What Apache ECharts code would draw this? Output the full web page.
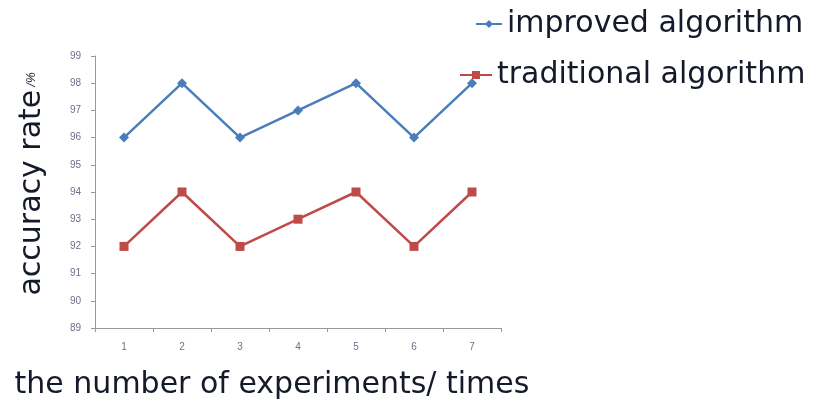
<!DOCTYPE html>
<html>
<head>
<meta charset="utf-8">
<script src="https://cdn.jsdelivr.net/npm/echarts@6/dist/echarts.min.js"></script>
<style>
html,body{margin:0;padding:0;background:#fff;}
#main{width:823px;height:405px;}
</style>
</head>
<body>
<div id="main"></div>
<script>
// 实验次数
var categories = ['1', '2', '3', '4', '5', '6', '7'];
// 改进算法准确率
var improved = [96, 98, 96, 97, 98, 96, 98];
// 传统算法准确率
var traditional = [92, 94, 92, 93, 94, 92, 94];

var myChart = echarts.init(document.getElementById('main'));
var tickColor = '#7a6a8a';
var textColor = '#151a2a';
var font = 'DejaVu Sans';
var option = {
	backgroundColor: '#fff',
	animation: false,
	grid: {left: 95, top: 56, right: 322, bottom: 77, outerBoundsMode: 'none', containLabel: false},
	legend: [
		{
			data: ['improved algorithm'],
			left: 470, top: 4,
			itemWidth: 26, itemHeight: 10, itemGap: 4,
			textStyle: {fontSize: 30, color: textColor, fontFamily: font}
		},
		{
			data: ['traditional algorithm'],
			left: 454, top: 55,
			itemWidth: 32, itemHeight: 10, itemGap: 4,
			textStyle: {fontSize: 30, color: textColor, fontFamily: font}
		}
	],
	xAxis: {
		type: 'category',
		data: categories,
		boundaryGap: true,
		name: 'the number of experiments/ times',
		nameLocation: 'middle',
		nameGap: 42,
		nameTextStyle: {fontSize: 30, color: textColor, fontFamily: font, padding: [0, 0, 0, -52]},
		axisLine: {lineStyle: {color: '#999'}},
		axisTick: {show: true, lineStyle: {color: '#999'}, length: 4},
		axisLabel: {fontSize: 10, color: tickColor, margin: 14}
	},
	yAxis: {
		type: 'value',
		min: 89, max: 99, interval: 1,
		name: '{a|accuracy rate} {b|/%}',
		nameLocation: 'middle',
		nameRotate: 90,
		nameGap: 48,
		nameTextStyle: {
			padding: [0, 0, 0, 16],
			rich: {
				a: {fontSize: 30, color: textColor, fontFamily: font},
				b: {fontSize: 12, color: textColor, fontStyle: 'italic'}
			}
		},
		axisLine: {show: true, lineStyle: {color: '#999'}},
		axisTick: {show: true, lineStyle: {color: '#999'}, length: 4},
		splitLine: {show: false},
		axisLabel: {fontSize: 10, color: tickColor, margin: 14}
	},
	series: [
		{
			name: 'improved algorithm',
			type: 'line',
			data: improved,
			symbol: 'diamond',
			symbolSize: 10,
			itemStyle: {color: '#4a7ebb'},
			lineStyle: {color: '#4a7ebb', width: 2.5}
		},
		{
			name: 'traditional algorithm',
			type: 'line',
			data: traditional,
			symbol: 'rect',
			symbolSize: 9,
			itemStyle: {color: '#be4b48'},
			lineStyle: {color: '#be4b48', width: 2.5}
		}
	]
};
myChart.setOption(option);
</script>
</body>
</html>
